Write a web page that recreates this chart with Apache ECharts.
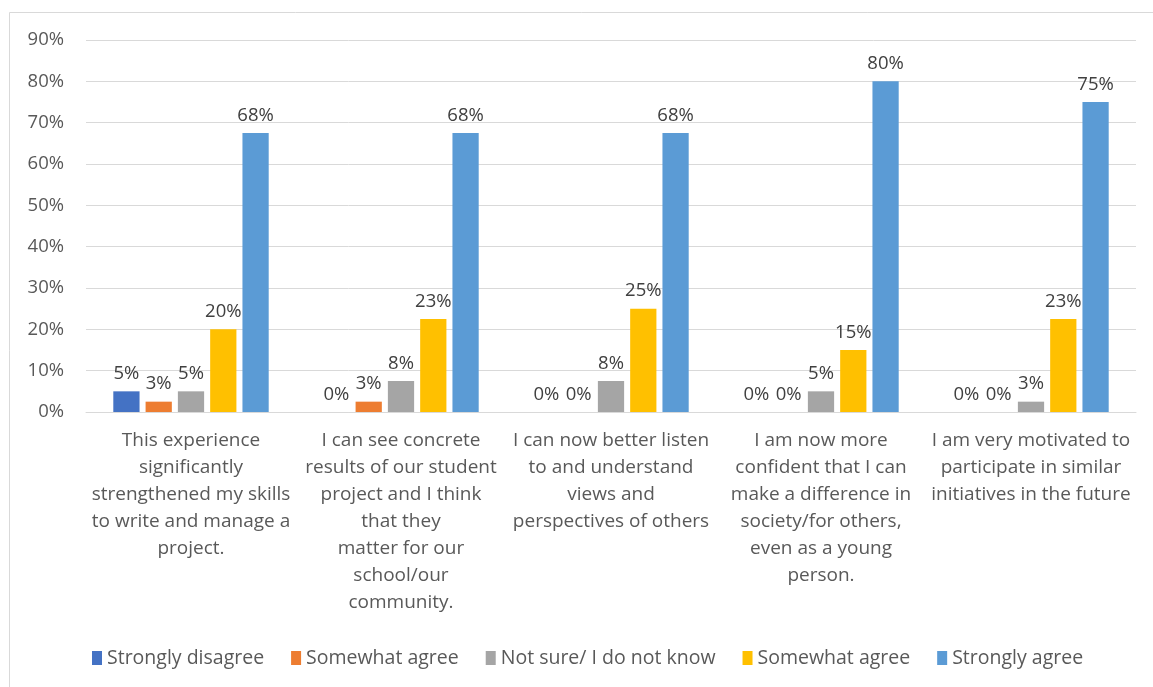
<!DOCTYPE html>
<html>
<head>
<meta charset="utf-8">
<script src="https://cdn.jsdelivr.net/npm/echarts@6/dist/echarts.min.js"></script>
<style>
  html, body { margin: 0; padding: 0; background: #fff; }
  #chart { width: 1153px; height: 687px; }
</style>
</head>
<body>
<div id="chart"></div>
<script>
// categories (wrapped like the original)
const categories = [
  "This experience\nsignificantly\nstrengthened my skills\nto write and manage a\nproject.",
  "I can see concrete\nresults of our student\nproject and I think\nthat they\nmatter for our\nschool/our\ncommunity.",
  "I can now better listen\nto and understand\nviews and\nperspectives of others",
  "I am now more\nconfident that I can\nmake a difference in\nsociety/for others,\neven as a young\nperson.",
  "I am very motivated to\nparticipate in similar\ninitiatives in the future"
];

// values in percent
const stronglyDisagree = [5, 0, 0, 0, 0];
const somewhatAgreeA = [2.5, 2.5, 0, 0, 0];
const notSure = [5, 7.5, 7.5, 5, 2.5];
const somewhatAgreeB = [20, 22.5, 25, 15, 22.5];
const stronglyAgree = [67.5, 67.5, 67.5, 80, 75];

const seriesNames = ["Strongly disagree", "Somewhat agree", "Not sure/ I do not know", "Somewhat agree ", "Strongly agree"];
const seriesColors = ["#4472C4", "#ED7D31", "#A5A5A5", "#FFC000", "#5B9BD5"];
const seriesValues = [stronglyDisagree, somewhatAgreeA, notSure, somewhatAgreeB, stronglyAgree];

const yTicks = { min: 0, max: 90, interval: 10 };

const FONT = "Open Sans";
const chart = echarts.init(document.getElementById("chart"));

const series = seriesNames.map((name, i) => ({
  name: name,
  type: "bar",
  data: seriesValues[i],
  itemStyle: { color: seriesColors[i] },
  barGap: "23%",
  barCategoryGap: "26%",
  label: {
    show: true,
    position: "top",
    distance: 8,
    color: "#404040",
    fontFamily: FONT,
    fontSize: 18.5,
    formatter: (p) => Math.round(p.value) + "%"
  }
}));

chart.setOption({
  animation: false,
  backgroundColor: "#fff",
  graphic: [{
    type: "rect",
    shape: { x: 9.5, y: 12.5, width: 1160, height: 700 },
    style: { fill: "none", stroke: "#d9d9d9", lineWidth: 1 },
    silent: true
  }],
  grid: { left: 86, right: 17, top: 40, bottom: 275, containLabel: false },
  legend: {
    left: 87,
    top: 643,
    itemWidth: 10,
    itemHeight: 14,
    itemGap: 27,
    icon: "rect",
    data: seriesNames,
    formatter: (n) => n.trim(),
    textStyle: { color: "#595959", fontFamily: FONT, fontSize: 19.5, padding: [0, 0, 0, 0] }
  },
  xAxis: {
    type: "category",
    data: categories,
    axisLine: { lineStyle: { color: "#d9d9d9", width: 1 } },
    axisTick: { show: false },
    axisLabel: {
      interval: 0,
      color: "#595959",
      fontFamily: FONT,
      fontSize: 19,
      lineHeight: 27,
      margin: 15,
      align: "center"
    }
  },
  yAxis: {
    type: "value",
    min: yTicks.min,
    max: yTicks.max,
    interval: yTicks.interval,
    axisLine: { show: false },
    axisTick: { show: false },
    splitLine: { lineStyle: { color: "#d9d9d9", width: 1 } },
    axisLabel: {
      formatter: "{value}%",
      color: "#595959",
      fontFamily: FONT,
      fontSize: 18.5,
      margin: 22
    }
  },
  series: series
});
</script>
</body>
</html>
